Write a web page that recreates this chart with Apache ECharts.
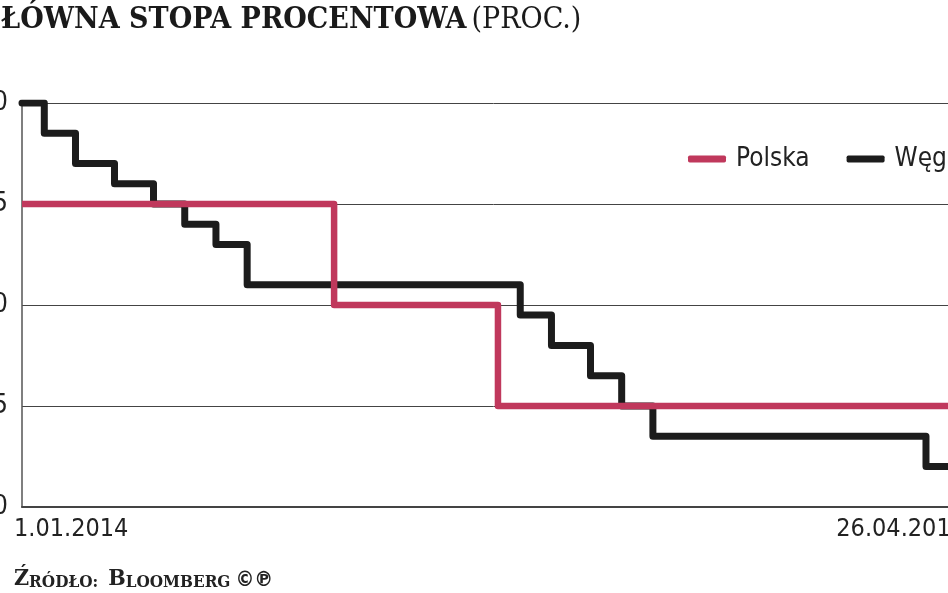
<!DOCTYPE html>
<html><head><meta charset="utf-8">
<script src="https://cdn.jsdelivr.net/npm/echarts@6/dist/echarts.min.js"></script>
<style>
html,body{margin:0;padding:0;overflow:hidden;background:#fff;width:948px;height:593px;position:relative}
#c{position:absolute;left:-60px;top:0;width:1200px;height:593px}
</style></head>
<body><div id="c"></div>
<script>
// ---- data ----
const startDate = '2014-01-01';
const endDate = '2016-04-26';
const xTickLabels = ['1.01.2014', '26.04.2016'];
const polskaDates = ['2014-01-01', '2014-10-08', '2015-03-04', '2016-04-26'];
const polskaValues = [2.50, 2.00, 1.50, 1.50];
const wegryDates = ['2014-01-01', '2014-01-21', '2014-02-18', '2014-03-25', '2014-04-29', '2014-05-27',
  '2014-06-24', '2014-07-22', '2015-03-24', '2015-04-21', '2015-05-26', '2015-06-23', '2015-07-21',
  '2016-03-22', '2016-04-26'];
const wegryValues = [3.00, 2.85, 2.70, 2.60, 2.50, 2.40, 2.30, 2.10, 1.95, 1.80, 1.65, 1.50, 1.35, 1.20, 1.20];
const yMin = 1.0, yMax = 3.0, yStep = 0.5;
const seriesNames = ['Polska', 'Węgry'];
const seriesColors = ['#c0385c', '#1c1c1c'];

// ---- helpers ----
function dayOffset(s) {
  const p = s.split('-').map(Number);
  const a = Date.UTC(p[0], p[1] - 1, p[2]);
  const b0 = startDate.split('-').map(Number);
  return Math.round((a - Date.UTC(b0[0], b0[1] - 1, b0[2])) / 86400000);
}
const xMax = dayOffset(endDate);
const pts = (d, v) => d.map((s, i) => [dayOffset(s), v[i]]);

const numFont = '"DejaVu Sans Condensed", "DejaVu Sans", sans-serif';
const serifFont = '"DejaVu Serif Condensed", "DejaVu Serif", serif';
const chart = echarts.init(document.getElementById('c'), null, {renderer: 'canvas'});
chart.setOption({
  animation: false,
  backgroundColor: '#fff',
  title: [{
    left: 38, top: 5, padding: 0,
    text: '{b|GŁÓWNA STOPA PROCENTOWA} {n|(PROC.)}',
    textStyle: {
      rich: {
        b: {fontFamily: serifFont, fontWeight: 'bold', fontSize: 30, color: '#1a1a1a'},
        n: {fontFamily: serifFont, fontWeight: 'normal', fontSize: 30, color: '#1a1a1a'}
      }
    }
  }, {
    left: 74, top: 568, padding: 0,
    text: '{b|Ź}{s|RÓDŁO:}  {b|B}{s|LOOMBERG} {c|©℗}',
    textStyle: {
      rich: {
        b: {fontFamily: serifFont, fontSize: 23, color: '#222', verticalAlign: 'bottom'},
        s: {fontFamily: serifFont, fontSize: 17, color: '#222', verticalAlign: 'bottom'},
        c: {fontFamily: numFont, fontSize: 21, color: '#222', verticalAlign: 'bottom'}
      }
    }
  }],
  legend: {
    left: 748, top: 146, padding: 0,
    itemWidth: 38, itemHeight: 7, itemGap: 37,
    icon: 'roundRect',
    data: seriesNames,
    textStyle: {fontFamily: numFont, fontSize: 26, color: '#222', padding: [0, 0, 0, 5]}
  },
  grid: {left: 82, right: 175, top: 103, bottom: 86, containLabel: false},
  xAxis: {
    type: 'value', min: 0, max: xMax, interval: xMax,
    axisLine: {show: true, lineStyle: {color: '#444', width: 2}},
    axisTick: {show: false},
    splitLine: {show: false},
    axisLabel: {
      margin: 10, fontFamily: numFont, fontSize: 25, color: '#222',
      showMinLabel: true, showMaxLabel: true,
      alignMinLabel: 'left', alignMaxLabel: 'right',
      padding: [0, 0, 0, -8],
      formatter: v => (v === 0 ? xTickLabels[0] : (v === xMax ? xTickLabels[1] : ''))
    }
  },
  yAxis: {
    type: 'value', min: yMin, max: yMax, interval: yStep,
    axisLine: {show: true, lineStyle: {color: '#555', width: 1.5}},
    axisTick: {show: false},
    splitLine: {show: true, lineStyle: {color: '#444', width: 1}},
    axisLabel: {
      margin: 14, fontFamily: numFont, fontSize: 26, color: '#222',
      formatter: v => v.toFixed(1).replace('.', ',')
    }
  },
  series: [{
    name: seriesNames[1], type: 'line', step: 'end', showSymbol: false, z: 2,
    data: pts(wegryDates, wegryValues),
    itemStyle: {color: seriesColors[1]},
    lineStyle: {color: seriesColors[1], width: 7, cap: 'round', join: 'round'}
  }, {
    name: seriesNames[0], type: 'line', step: 'end', showSymbol: false, z: 3,
    data: pts(polskaDates, polskaValues),
    itemStyle: {color: seriesColors[0]},
    lineStyle: {color: seriesColors[0], width: 6.5, cap: 'butt', join: 'round'}
  }]
});
</script>
</body></html>
